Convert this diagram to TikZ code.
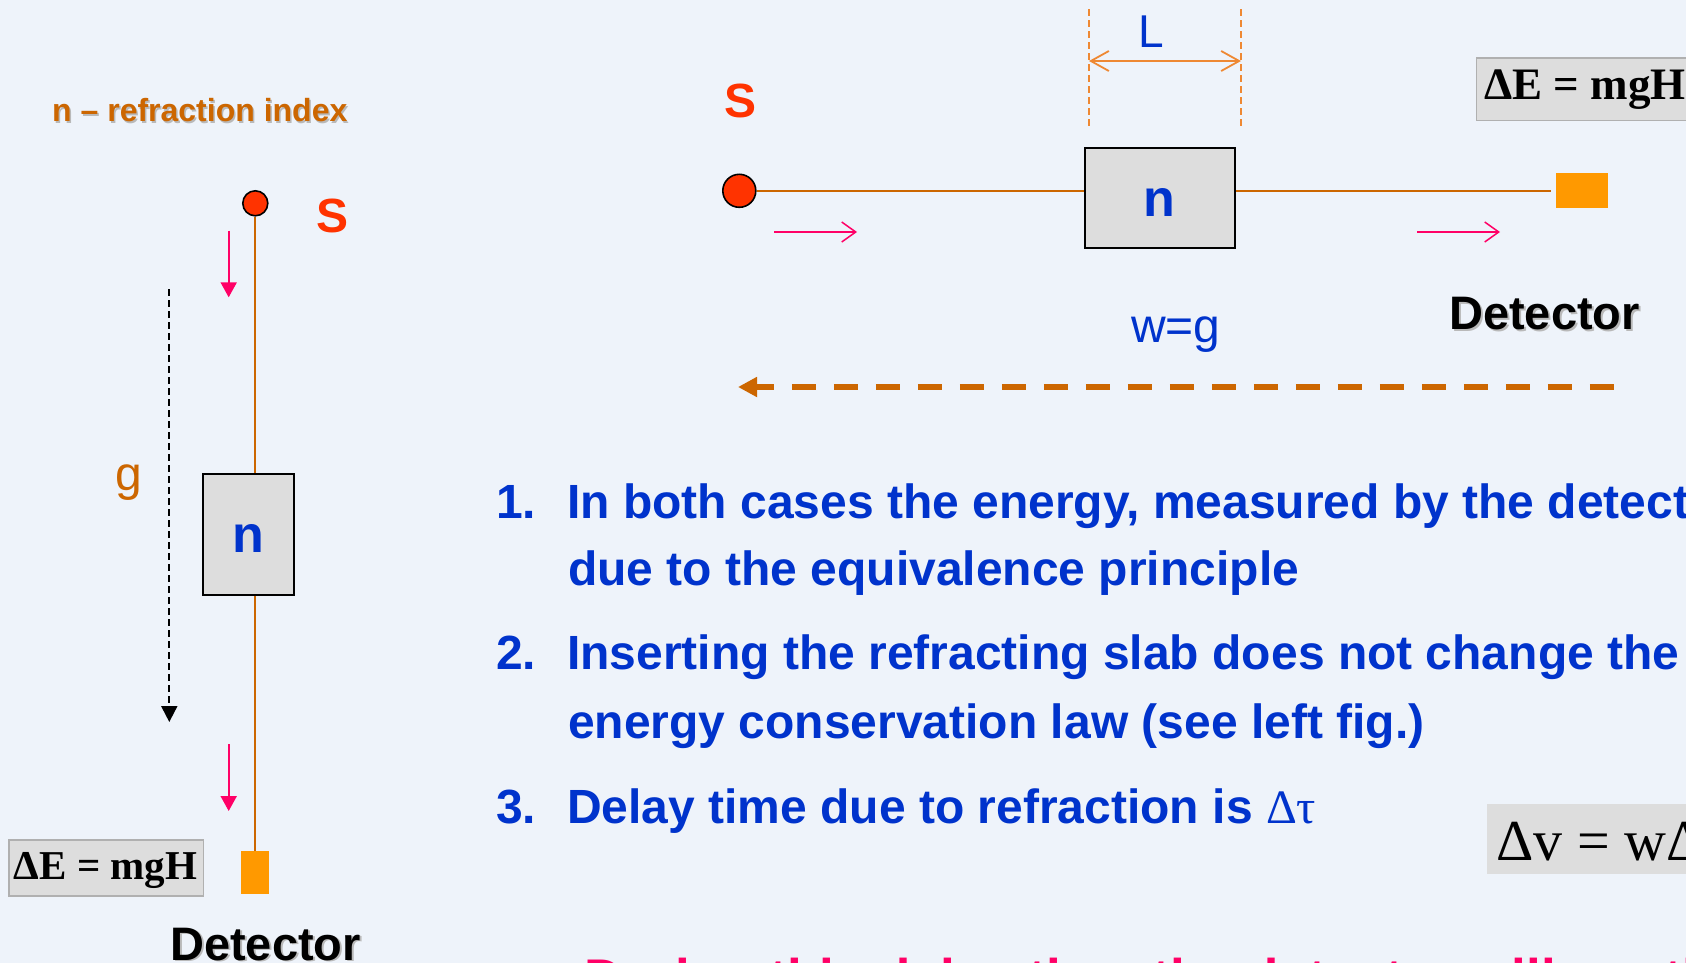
\documentclass[tikz,border=0pt]{standalone}
\usepackage{fontspec}
\setmainfont{Liberation Sans}
\newfontfamily\tnr{Liberation Serif}
\usetikzlibrary{arrows.meta}
\definecolor{bgcol}{RGB}{238,243,250}
\definecolor{ora}{RGB}{204,102,0}
\definecolor{lora}{RGB}{238,136,51}
\definecolor{pinkc}{RGB}{255,0,102}
\definecolor{redc}{RGB}{255,51,0}
\definecolor{bluec}{RGB}{0,51,204}
\definecolor{detc}{RGB}{255,153,0}
\definecolor{boxg}{RGB}{221,221,221}
\definecolor{boxb}{RGB}{176,176,176}
\definecolor{shad}{RGB}{185,185,185}
\newcommand\myfs[1]{\fontsize{#1}{#1}\selectfont}
\begin{document}
\begin{tikzpicture}[x=1pt,y=-1pt,
  txt/.style={inner sep=0pt, anchor=base west},
  source/.style={circle, draw=black, line width=1.6pt, fill=redc, inner sep=0pt},
  slab/.style={draw=black, line width=2pt, fill=boxg, inner sep=0pt, text height=36pt, text depth=0pt, font=\bfseries\myfs{52}, text=bluec},
  detector/.style={fill=detc, inner sep=0pt},
  ray/.style={draw=ora, line width=2pt},
  fallarrow/.style={draw=pinkc, line width=2pt, -{Triangle[length=15pt,width=16pt]}},
  movearrow/.style={draw=pinkc, line width=1.5pt, -{Straight Barb[length=14pt,width=20pt]}},
  gravarrow/.style={draw=black, line width=2pt, dash pattern=on 7pt off 4pt, -{Triangle[length=16pt,width=16pt]}},
  dimline/.style={draw=lora, line width=1.2pt, dash pattern=on 7pt off 4pt},
  dimarrow/.style={draw=lora, line width=1.8pt, {Straight Barb[length=18pt,width=20pt]}-{Straight Barb[length=18pt,width=20pt]}},
  accel/.style={draw=ora, line width=6.5pt, dash pattern=on 24pt off 18pt, dash phase=6pt, {Triangle[length=19pt,width=19pt]}-},
  eqbox/.style={draw=boxb, line width=1.5pt, fill=boxg, inner sep=0pt},
  dvbox/.style={fill=boxg, inner sep=0pt},
  item/.style={txt, font=\bfseries\myfs{48}, text=bluec},
]
\useasboundingbox (0,0) rectangle (1686,963);
\clip (0,0) rectangle (1686,963);
\fill[bgcol] (0,0) rectangle (1686,963);

% ---------------- left panel ----------------
\node[txt, font=\bfseries\myfs{32}, text=shad] (titleshadow) at (53.5,123.5) {n -- refraction index};
\node[txt, font=\bfseries\myfs{32}, text=ora] (title) at (52,122) {n -- refraction index};

\node[source, minimum size=25pt] (src1) at (255.3,203.3) {};
\node[txt, font=\bfseries\myfs{48}, text=redc] (S1) at (316,232) {S};

\node[slab, minimum width=90.7pt, minimum height=120.4pt] (slab1) at (248.7,534.5) {n};
\node[detector, minimum width=28pt, minimum height=42.7pt] (det1) at (255.3,872.3) {};

\draw[ray] (src1.south) -- (src1.south |- slab1.north);
\draw[ray] (src1.south |- slab1.south) -- (det1.north);

\coordinate (fa1s) at (228.7,230.7);
\coordinate (fa1e) at (228.7,297.3);
\draw[fallarrow] (fa1s) -- (fa1e);
\coordinate (fa2s) at (228.7,744);
\coordinate (fa2e) at (228.7,811);
\draw[fallarrow] (fa2s) -- (fa2e);

\coordinate (gs) at (169.3,289);
\coordinate (ge) at (169.3,722);
\draw[gravarrow] (gs) -- (ge);
\node[txt, font=\myfs{48}, text=ora] (glabel) at (115,490) {g};

\node[eqbox, minimum width=194.2pt, minimum height=55.9pt] (eq1) at (106.15,868) {};
\node[inner sep=0pt, anchor=base, font=\tnr\bfseries\myfs{41}] (eq1t) at (105.5,879) {ΔE = mgH};

\node[txt, font=\bfseries\myfs{47}, text=shad] (det1shadow) at (172,961.5) {Detector};
\node[txt, font=\bfseries\myfs{47}] (det1label) at (170,960) {Detector};

% ---------------- right top panel ----------------
\node[source, minimum size=33pt] (src2) at (739.3,190.8) {};
\node[txt, font=\bfseries\myfs{48}, text=redc] (S2) at (724,118) {S};

\node[slab, minimum width=150.2pt, minimum height=100.6pt] (slab2) at (1159.7,198) {n};
\node[detector, minimum width=52pt, minimum height=35.6pt] (det2) at (1581.5,190.5) {};

\draw[ray] (src2.east) -- (src2.east -| slab2.west);
\draw[ray, shorten >=4pt] (src2.east -| slab2.east) -- (src2.east -| det2.west);

\coordinate (ma1s) at (774,232);
\coordinate (ma1e) at (857,232);
\draw[movearrow] (ma1s) -- (ma1e);
\coordinate (ma2s) at (1417,232);
\coordinate (ma2e) at (1500,232);
\draw[movearrow] (ma2s) -- (ma2e);

\coordinate (dl1t) at (1089,9.3);
\coordinate (dl1b) at (1089,129.3);
\coordinate (dl2t) at (1241,9.3);
\coordinate (dl2b) at (1241,129.3);
\draw[dimline] (dl1t) -- (dl1b);
\draw[dimline] (dl2t) -- (dl2b);
\coordinate (da1) at (1089,61);
\coordinate (da2) at (1241,61);
\draw[dimarrow] (da1) -- (da2);
\node[txt, font=\myfs{46}, text=bluec] (Llabel) at (1138,48) {L};

\node[eqbox, minimum width=242.5pt, minimum height=62.2pt] (eq2) at (1597.8,89.2) {};
\node[txt, font=\tnr\bfseries\myfs{45}] (eq2t) at (1484,100) {ΔE = mgH};

\node[txt, font=\bfseries\myfs{47}, text=shad] (det2shadow) at (1451,331) {Detector};
\node[txt, font=\bfseries\myfs{47}] (det2label) at (1449,329) {Detector};

\node[txt, font=\myfs{48}, text=bluec] (wg) at (1131,342) {w=g};

\coordinate (acct) at (738,387);
\coordinate (acce) at (1615,387);
\draw[accel] (acct) -- (acce);

% ---------------- list ----------------
\node[item] (n1) at (496,518) {1.};
\node[item] (l1a) at (567,518) {In both cases the energy, measured by the detector,};
\node[item] (l1b) at (568,585) {due to the equivalence principle};
\node[item] (n2) at (496,669) {2.};
\node[item] (l2a) at (567,669) {Inserting the refracting slab does not change the};
\node[item] (l2b) at (568,738) {energy conservation law (see left fig.)};
\node[item] (n3) at (496,823) {3.};
\node[item] (l3a) at (567,823) {Delay time due to refraction is {\tnr\mdseries Δτ}};

\node[dvbox, minimum width=233.3pt, minimum height=70.3pt] (dv) at (1603.35,839.15) {};
\node[txt, font=\tnr\myfs{58}] (dvt) at (1496,860) {Δv = wΔτ};

\node[txt, font=\bfseries\myfs{53}, text=pinkc] (bottom) at (584,996) {During this delay time the detector will continue to move};
\end{tikzpicture}
\end{document}
